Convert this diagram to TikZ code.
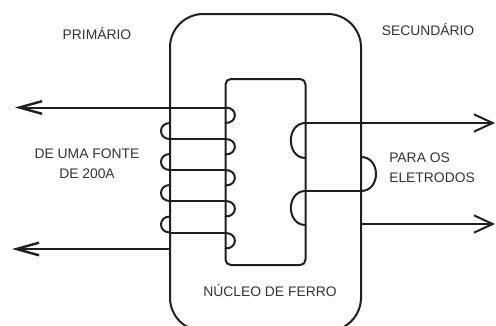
\documentclass[tikz,border=0pt]{standalone}
\usepackage{fontspec}
\setmainfont{Liberation Sans}
\usetikzlibrary{arrows.meta}

\tikzset{
  wire/.style={line width=1.5pt,black!88,line cap=round},
  flowout/.style={wire,-{Straight Barb[length=14pt,width=13pt,line width=1.5pt]}},
  flowin/.style={wire,-{Straight Barb[length=17pt,width=9.5pt,line width=1.8pt]}},
  core/.style={line width=1.5pt,black!88,rounded corners=4pt},
  caption/.style={font=\fontsize{10.4}{15}\selectfont,text=black!80,align=center,inner sep=0pt}
}

\begin{document}
\begin{tikzpicture}[x=0.75pt,y=-0.75pt]
  \clip (0,0) rectangle (496,325);
  \useasboundingbox (0,0) rectangle (496,325);

  % outer frame
  \draw[wire,rounded corners=25pt] (170,14) rectangle (361,331);
  \draw[core] (225.5,79) rectangle (305.5,265);

  \coordinate (PrimTop) at (15,107.5);
  \coordinate (PrimBot) at (12,249);
  \coordinate (SecTop) at (495,123);
  \coordinate (SecBot) at (495,224);
  \coordinate (CoreL) at (225.5,107.5);
  \coordinate (FrameL) at (170,249);
  \coordinate (SecL) at (305.5,123);
  \coordinate (SecR) at (361,224);

  \draw[flowin] (CoreL) -- (PrimTop);
  \draw[flowin] (FrameL) -- (PrimBot);
  \draw[flowout] (SecL) -- (SecTop);
  \draw[flowout] (SecR) -- (SecBot);

  % primary turns
  \foreach \y in {107.5,139,170,201,233} {
    \draw[wire] (225.5,\y) .. controls (238,\y) and (238,\y+15.5) .. (225.5,\y+15.5);
  }
  \foreach \y in {123,154,185,216.5} {
    \draw[wire] (170,\y) .. controls (158,\y) and (158,\y+16) .. (170,\y+16);
    \draw[wire] (170,\y+16) -- (225.5,\y+16);
  }

  % secondary turns
  \draw[wire] (305.5,123) .. controls (286,123) and (286,158) .. (305.5,158);
  \draw[wire] (361,157) .. controls (381,157) and (381,191) .. (361,191);
  \draw[wire] (361,191) -- (305.5,191);
  \draw[wire] (305.5,191) .. controls (286,191) and (286,225) .. (305.5,225);

  \node[caption] (primario) at (97,34) {PRIMÁRIO};
  \node[caption] (secundario) at (428,30) {SECUNDÁRIO};
  \node[caption] (fonte) at (87,164) {DE UMA FONTE\\DE 200A};
  \node[caption,align=left,anchor=west] (eletrodos) at (389,167.5) {PARA OS\\ELETRODOS};
  \node[caption] (nucleo) at (270,291) {NÚCLEO DE FERRO};
\end{tikzpicture}
\end{document}
